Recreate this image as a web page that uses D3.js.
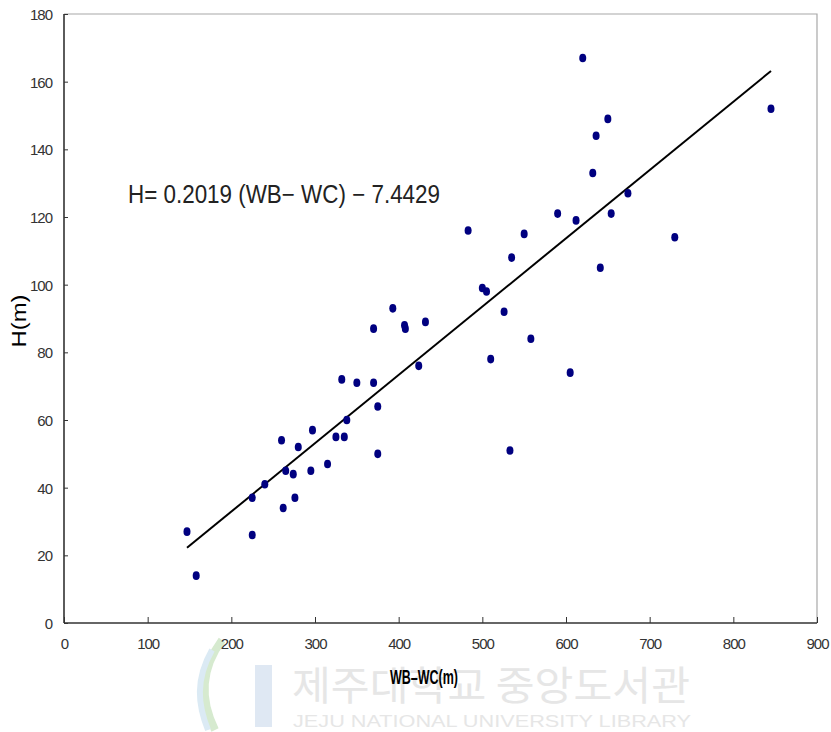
<!DOCTYPE html>
<html><head><meta charset="utf-8">
<script src="https://cdn.jsdelivr.net/npm/d3@7"></script>
<style>body{margin:0;background:#fff}</style>
</head><body>
<svg id="c" width="831" height="732"></svg>
<script>
const xTicks = [0,100,200,300,400,500,600,700,800,900];
const yTicks = [0,20,40,60,80,100,120,140,160,180];
const wbwc = [147,158,225,225,240,260,262,265,274,276,280,295,297,315,325,332,335,338,350,370,370,375,375,393,407,408,424,432,483,500,505,510,526,533,535,550,558,590,605,612,620,632,636,650,654,674,641,730,845];
const hVals = [27,14,37,26,41,54,34,45,44,37,52,45,57,47,55,72,55,60,71,71,87,64,50,93,88,87,76,89,116,99,98,78,92,51,108,115,84,121,74,119,167,133,144,149,121,127,105,114,152];
const slope = 0.2019, intercept = -7.4429;
const fitRange = [147,845];
const eqText = "H= 0.2019 (WB\u2212 WC) \u2212 7.4429";

const svg = d3.select("#c");
const L=64, R=817, T=14, B=623;
const x = d3.scaleLinear().domain([0,900]).range([L,R]);
const y = d3.scaleLinear().domain([0,180]).range([B,T]);
const font = "'Liberation Sans', Arial, sans-serif";

// watermark
const wm = svg.append("g");
wm.append("path").attr("d","M222,640 C200,670 200,700 215,730").attr("fill","none").attr("stroke","#d6eacf").attr("stroke-width",8);
wm.append("path").attr("d","M212,650 C195,680 198,705 208,730").attr("fill","none").attr("stroke","#dbeaf4").attr("stroke-width",6);
wm.append("rect").attr("x",255).attr("y",665).attr("width",17).attr("height",62).attr("fill","#dfe8f3");
wm.append("text").attr("x",292).attr("y",700).attr("font-family","'Noto Sans CJK KR', sans-serif").attr("font-size",40).attr("fill","#e6e6e6").attr("textLength",398).attr("lengthAdjust","spacingAndGlyphs").text("제주대학교 중앙도서관");
wm.append("text").attr("x",293).attr("y",727).attr("font-family",font).attr("font-size",17).attr("fill","#e6e6e6").attr("textLength",398).attr("lengthAdjust","spacingAndGlyphs").text("JEJU NATIONAL UNIVERSITY  LIBRARY");

// frame top/right
svg.append("path").attr("d",`M${L},${T}H${R}V${B}`).attr("fill","none").attr("stroke","#a8a8a8").attr("stroke-width",1.2);

// axes
const gx = svg.append("g").attr("transform",`translate(0,${B})`)
  .call(d3.axisBottom(x).tickValues(xTicks).tickSize(-6).tickPadding(0).tickFormat(d3.format("d")));
const gy = svg.append("g").attr("transform",`translate(${L},0)`)
  .call(d3.axisLeft(y).tickValues(yTicks).tickSize(-4).tickPadding(0).tickFormat(d3.format("d")));
[gx,gy].forEach(g=>{
  g.select(".domain").attr("stroke","#333").attr("stroke-width",1.6);
  g.selectAll(".tick line").attr("stroke","#333").attr("stroke-width",1);
  g.selectAll(".tick text").attr("font-family",font).attr("font-size",15).attr("fill","#333").attr("letter-spacing",-1);
});
gx.select(".domain").attr("d",`M${L},0H${R}`);
gy.select(".domain").attr("d",`M0,${B}V${T}`);
gx.selectAll(".tick text").attr("y",26).attr("dy",0);
gy.selectAll(".tick text").attr("x",-12).attr("dy","0.36em");

// fit line
svg.append("line")
  .attr("x1",x(fitRange[0])).attr("y1",y(slope*fitRange[0]+intercept))
  .attr("x2",x(fitRange[1])).attr("y2",y(slope*fitRange[1]+intercept))
  .attr("stroke","#000").attr("stroke-width",2);

// points
svg.append("g").selectAll("ellipse").data(wbwc).join("ellipse")
  .attr("cx",(d)=>x(d)).attr("cy",(d,i)=>y(hVals[i]))
  .attr("rx",3.5).attr("ry",4.3).attr("fill","#000080");

// equation
svg.append("text").attr("x",128).attr("y",203).attr("font-family",font).attr("font-size",25)
  .attr("fill","#222").attr("textLength",312).attr("lengthAdjust","spacingAndGlyphs").text(eqText);

// axis titles
svg.append("text").attr("x",424).attr("y",684).attr("text-anchor","middle").attr("font-family",font)
  .attr("font-size",20).attr("font-weight","bold").attr("fill","#000").attr("textLength",68).attr("lengthAdjust","spacingAndGlyphs").text("WB\u2013WC(m)");
svg.append("text").attr("transform","translate(26,321) rotate(-90)").attr("text-anchor","middle").attr("font-family",font)
  .attr("font-size",20).attr("fill","#000").attr("textLength",53).attr("lengthAdjust","spacingAndGlyphs").text("H(m)");
</script>
</body></html>
